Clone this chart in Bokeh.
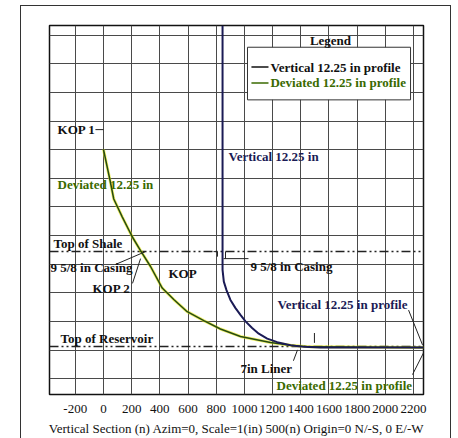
from bokeh.plotting import figure
from bokeh.models import Range1d, FixedTicker
from bokeh.layouts import column
from bokeh.embed import file_html
from bokeh.resources import INLINE
from bokeh.core.properties import value

# ---------------- data ----------------
x_ticks = [-200, 0, 200, 400, 600, 800, 1000, 1200, 1400, 1600, 1800, 2000, 2200]
x_tick_labels = ["-200", "0", "200", "400", "600", "800", "1000", "1200", "1400",
                 "1600", "1800", "2000", "2200"]
tvd_grid = [0, 200, 400, 600, 800, 1000, 1200, 1400, 1600, 1800, 2000, 2200, 2400]

# Vertical 12.25 in profile (vertical section, TVD)
vert_vs = [845, 845, 854, 873, 901, 937, 972, 1008, 1055, 1102, 1162, 1233, 1327, 1422, 1540, 2271]
vert_tvd = [-69, 1640, 1722, 1781, 1850, 1907, 1954, 2000, 2046, 2086, 2120, 2145, 2166, 2178, 2182, 2182]

# Deviated 12.25 in profile
dev_vs = [0, 45, 73, 133, 204, 263, 334, 417, 499, 594, 712, 830, 972, 1185, 1327, 1469, 2271]
dev_tvd = [798, 1006, 1144, 1269, 1408, 1505, 1616, 1767, 1847, 1932, 1994, 2053, 2105, 2147, 2166, 2178, 2182]

# formation tops
top_shale_tvd = 1512
top_reservoir_tvd = 2176

# annotation texts
black_text = ["KOP 1", "Top of Shale", "9 5/8 in Casing", "KOP 2", "KOP",
              "9 5/8 in Casing", "Top of Reservoir", "7in Liner"]
black_vs = [-326, -355, -376, -78, 461, 1043, -305, 972]
black_tvd = [659, 1457, 1623, 1769, 1665, 1616, 2122, 2331]

green_text = ["Deviated 12.25 in", "Deviated 12.25 in profile"]
green_vs = [-326, 1228]
green_tvd = [1040, 2449]

navy_text = ["Vertical 12.25 in", "Vertical 12.25 in profile"]
navy_vs = [887, 1235]
navy_tvd = [846, 1880]

# pointer / marker segments
ptr_x0 = [-57, 85, 206, 2165, 2193, 1348, 1497, 781, 809, 866, 852]
ptr_y0 = [659, 1602, 1734, 1921, 2372, 2275, 2081, 1512, 1512, 1512, 1561]
ptr_x1 = [0, 298, 263, 2264, 2271, 1377, 1497, 809, 809, 866, 1029]
ptr_y1 = [659, 1512, 1561, 2164, 2220, 2199, 2150, 1512, 1547, 1561, 1561]

legend_title = "Legend"
legend_labels = ["Vertical 12.25 in profile", "Deviated 12.25 in profile"]

# ---------------- styles ----------------
FONT = value("Liberation Serif")
NAVY = "#1b1b55"
GREEN = "#3a6a00"
DEV_LINE = "#264a12"

p = figure(width=429, height=432,
           x_range=Range1d(-383, 2271), y_range=Range1d(2511, -69),
           output_backend="svg", toolbar_location=None,
           min_border_left=28, min_border_right=27,
           min_border_top=19, min_border_bottom=41)
p.background_fill_color = "white"
p.border_fill_color = "white"
p.outline_line_color = "#111111"
p.outline_line_width = 1.5

p.yaxis.visible = False
p.xaxis.ticker = FixedTicker(ticks=x_ticks)
p.xaxis.major_label_overrides = {t: s for t, s in zip(x_ticks, x_tick_labels)}
p.xaxis.axis_line_color = None
p.xaxis.major_tick_line_color = None
p.xaxis.minor_tick_line_color = None
p.xaxis.major_label_standoff = 4
p.xaxis.major_label_text_font = "Liberation Serif"
p.xaxis.major_label_text_font_size = "13px"
p.xaxis.major_label_text_color = "#111111"
p.xaxis.axis_label = "Vertical Section (n) Azim=0, Scale=1(in) 500(n) Origin=0 N/-S, 0 E/-W"
p.xaxis.axis_label_text_font = "Liberation Serif"
p.xaxis.axis_label_text_font_size = "13px"
p.xaxis.axis_label_text_font_style = "normal"
p.xaxis.axis_label_text_color = "#111111"
p.xaxis.axis_label_standoff = 5

p.xgrid.ticker = FixedTicker(ticks=x_ticks)
p.ygrid.ticker = FixedTicker(ticks=tvd_grid)
for g in (p.xgrid, p.ygrid):
    g.grid_line_color = "#4a4a4a"
    g.grid_line_alpha = 1.0
    g.grid_line_width = 1

# formation tops (dash-dot-dot)
p.line([-383, 2271], [top_shale_tvd, top_shale_tvd], line_color="#222222",
       line_width=1.5, line_dash="9 3 2 3 2 3")
p.line([-383, 2271], [top_reservoir_tvd, top_reservoir_tvd], line_color="#222222",
       line_width=1.5, line_dash="9 3 2 3 2 3")

# profiles
p.line(dev_vs, dev_tvd, line_color="#e6e600", line_width=3, line_alpha=0.6)
p.line(dev_vs, dev_tvd, line_color=DEV_LINE, line_width=1.5)
p.line(vert_vs, vert_tvd, line_color=NAVY, line_width=2)

# pointers
p.segment(ptr_x0, ptr_y0, ptr_x1, ptr_y1, line_color="#222222", line_width=1)

# labels
p.text(black_vs, black_tvd, text=black_text, text_font=FONT, text_font_size="13px",
       text_font_style="bold", text_color="#111111", text_baseline="middle", text_align="left")
p.text(green_vs, green_tvd, text=green_text, text_font=FONT, text_font_size="13px",
       text_font_style="bold", text_color=GREEN, text_baseline="middle", text_align="left")
p.text(navy_vs, navy_tvd, text=navy_text, text_font=FONT, text_font_size="13px",
       text_font_style="bold", text_color=NAVY, text_baseline="middle", text_align="left")

# legend (drawn)
p.quad(left=[1022], right=[2179], top=[83], bottom=[451], fill_color="white",
       line_color="#333333", line_width=1)
p.text([1611], [35], text=[legend_title], text_font=FONT, text_font_size="13px",
       text_font_style="bold", text_color="#111111", text_baseline="middle", text_align="center")
p.segment([1050, 1050], [222, 333], [1171, 1171], [222, 333],
          line_color=["#111111", GREEN], line_width=1.5)
p.text([1185, 1185], [222, 333], text=legend_labels, text_font=FONT, text_font_size="13px",
       text_font_style="bold", text_color=["#111111", GREEN],
       text_baseline="middle", text_align="left")

layout = column(p, margin=(5, 0, -4, 20),
                styles={"border-top": "1px solid #333",
                        "border-left": "1px solid #333",
                        "border-right": "1px solid #333"})

open("out.html", "w").write(file_html(layout, INLINE))
